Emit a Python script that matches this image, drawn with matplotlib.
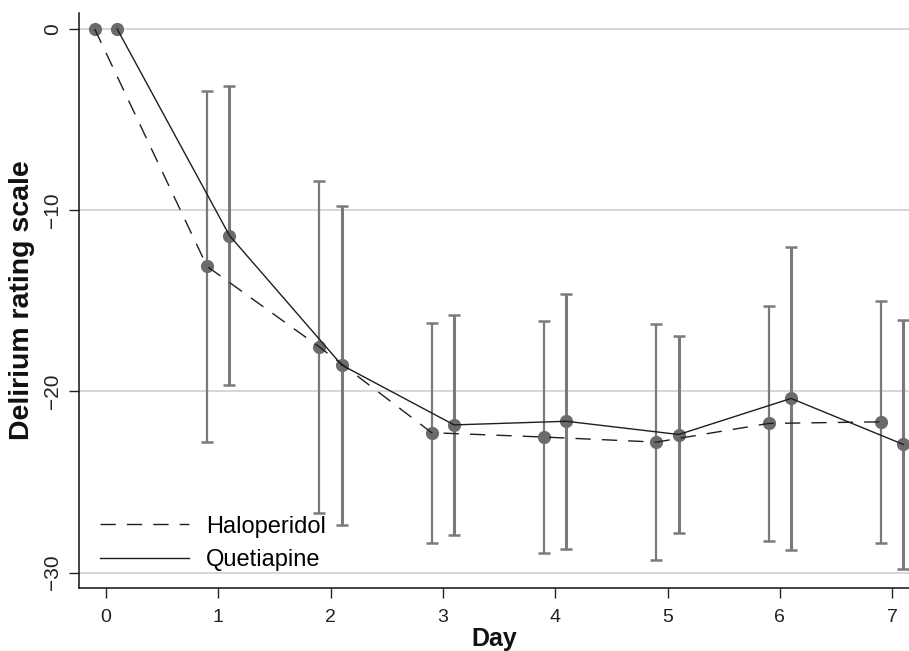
import matplotlib
matplotlib.use('Agg')
from matplotlib import pyplot as plt
import numpy as np

plt.rcParams['font.family'] = ['Liberation Sans', 'DejaVu Sans']

days = [0, 1, 2, 3, 4, 5, 6, 7]
halo_mean = [0, -13.1, -17.55, -22.28, -22.52, -22.8, -21.77, -21.68]
halo_err = [0, 9.68, 9.17, 6.08, 6.41, 6.52, 6.49, 6.67]
quet_mean = [0, -11.4, -18.55, -21.85, -21.65, -22.38, -20.39, -22.93]
quet_err = [0, 8.24, 8.8, 6.07, 7.04, 5.45, 8.36, 6.86]

fig = plt.figure(figsize=(9.09, 6.51), dpi=100)
ax = fig.add_axes([0.0869, 0.0968, 0.9131, 0.8832])

hx = np.array(days) - 0.1
qx = np.array(days) + 0.1
grey = '#7a7a7a'
mgrey = '#6b6b6b'

# error bars (no bar at day 0)
ax.errorbar(hx[1:], halo_mean[1:], yerr=halo_err[1:], fmt='none', ecolor=grey,
            elinewidth=1.6, capsize=4.3, capthick=1.8, zorder=2)
ax.errorbar(qx[1:], quet_mean[1:], yerr=quet_err[1:], fmt='none', ecolor=grey,
            elinewidth=2.2, capsize=4.3, capthick=1.8, zorder=2)

ax.plot(hx, halo_mean, 'o', color=mgrey, ms=9.5, mec='none', zorder=3)
ax.plot(qx, quet_mean, 'o', color=mgrey, ms=9.5, mec='none', zorder=3)

ax.plot(hx, halo_mean, color='#1e1e1e', lw=1.0, dashes=(11, 8), zorder=4, label='Haloperidol')
ax.plot(qx, quet_mean, color='#1e1e1e', lw=1.0, zorder=4, label='Quetiapine')

ax.set_xlim(-0.24, 7.15)
ax.set_ylim(-30.85, 0.88)
ax.set_xticks(days)
ax.set_yticks([0, -10, -20, -30])
ax.set_yticklabels(['0', '\u221210', '\u221220', '\u221230'], rotation=90, va='center')

ax.yaxis.grid(True, color='#d3d3d3', lw=1.3)
ax.set_axisbelow(True)
for s in ['top', 'right']:
    ax.spines[s].set_visible(False)
for s in ['left', 'bottom']:
    ax.spines[s].set_linewidth(1.1)
    ax.spines[s].set_color('#111111')
ax.tick_params(direction='out', length=7, width=1.0, color='#222222',
               labelsize=14, labelcolor='#222222')
ax.tick_params(axis='x', pad=8)
ax.tick_params(axis='y', pad=5, labelsize=15)

ax.set_xlabel('Day', fontsize=18, fontweight='bold', labelpad=1, color='#111111')
ax.set_ylabel('Delirium rating scale', fontsize=20.5, fontweight='bold', labelpad=6, color='#111111')

leg = ax.legend(loc='lower left', frameon=False, fontsize=17, handlelength=3.8,
                handletextpad=0.7, labelspacing=0.5, borderaxespad=0.3,
                bbox_to_anchor=(0.005, 0.0))

fig.savefig('out.png', dpi=100)
